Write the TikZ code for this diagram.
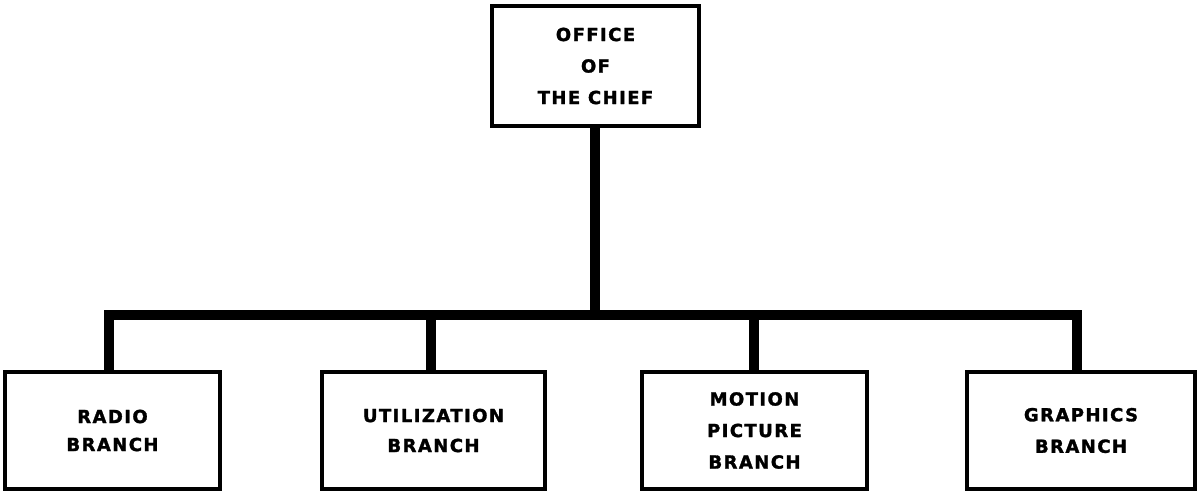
\documentclass[tikz,border=0pt]{standalone}
\usepackage{fontspec}
\newfontfamily\lab[LetterSpace=8,FakeBold=1.6]{DejaVu Sans}
\begin{document}
\begin{tikzpicture}[x=1pt,y=1pt,
  box/.style={draw=black,line width=3.2pt,rectangle,inner sep=0pt,align=center,
    font=\lab\bfseries\fontsize{18}{31.5}\selectfont},
  conn/.style={draw=black,line width=10.5pt,line join=miter,line cap=butt}]
\useasboundingbox (0,0) rectangle (1198,491);
\node[box,minimum width=207pt,minimum height=120pt] (top) at (595.5,425) {OFFICE\\OF\\THE CHIEF};
\node[box,minimum width=215pt,minimum height=117pt,font=\lab\bfseries\fontsize{18}{28}\selectfont] (b1) at (112.5,60.5) {RADIO\\BRANCH};
\node[box,minimum width=223pt,minimum height=117pt,font=\lab\bfseries\fontsize{18}{30}\selectfont] (b2) at (433.5,60.5) {UTILIZATION\\BRANCH};
\node[box,minimum width=225pt,minimum height=117pt] (b3) at (754.5,60.5) {MOTION\\PICTURE\\BRANCH};
\node[box,minimum width=228pt,minimum height=117pt] (b4) at (1081,60.5) {GRAPHICS\\BRANCH};
\coordinate (bus) at (595,176);
\coordinate (j1) at (109,176);
\coordinate (j2) at (431,176);
\coordinate (j3) at (754,176);
\coordinate (j4) at (1077,176);
\draw[conn] (top.south -| bus) -- (bus);
\draw[conn] (j1 |- b1.north) -- (j1) -- (j4) -- (j4 |- b4.north);
\draw[conn] (j2) -- (j2 |- b2.north);
\draw[conn] (j3) -- (j3 |- b3.north);
\end{tikzpicture}
\end{document}
